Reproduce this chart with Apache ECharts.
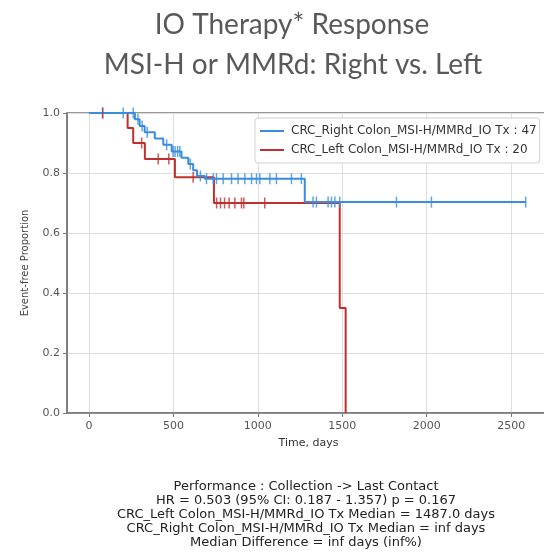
<!DOCTYPE html>
<html>
<head>
<meta charset="utf-8">
<style>
  html, body { margin: 0; padding: 0; background: #ffffff; }
  #chart { width: 544px; height: 559px; }
</style>
<script src="https://cdn.jsdelivr.net/npm/echarts@6/dist/echarts.min.js"></script>
</head>
<body>
<div id="chart"></div>
<script>
// Kaplan-Meier curves: step points (time in days, event-free proportion)
const rightName = 'CRC_Right Colon_MSI-H/MMRd_IO Tx : 47';
const leftName = 'CRC_Left Colon_MSI-H/MMRd_IO Tx : 20';

const rightTimes = [0, 272, 300, 330, 390, 440, 490, 548, 588, 617, 640, 686, 1278, 2586];
const rightSurv  = [1.0, 0.979, 0.957, 0.936, 0.915, 0.894, 0.872, 0.851, 0.830, 0.809, 0.790, 0.781, 0.703, 0.703];
const rightCensored = [81, 203, 262, 290, 315, 345, 460, 498, 510, 525, 538, 600, 660, 696, 736, 755, 795,
  844, 883, 923, 963, 992, 1012, 1071, 1110, 1199, 1258, 1327, 1347, 1416, 1436, 1456, 1485, 1821, 2028, 2586];

const leftTimes = [0, 229, 262, 331, 509, 740, 1485, 1520];
const leftSurv  = [1.0, 0.95, 0.90, 0.847, 0.786, 0.70, 0.35, 0.0];
const leftCensored = [81, 312, 410, 473, 617, 756, 779, 803, 830, 864, 903, 917, 1041];

const xTicks = [0, 500, 1000, 1500, 2000, 2500];

const statLines = [
  'Performance : Collection -> Last Contact',
  'HR = 0.503 (95% CI: 0.187 - 1.357) p = 0.167',
  'CRC_Left Colon_MSI-H/MMRd_IO Tx Median = 1487.0 days',
  'CRC_Right Colon_MSI-H/MMRd_IO Tx Median = inf days',
  'Median Difference = inf days (inf%)'
];

const BLUE = '#3a8ddd';
const RED = '#c0302e';

function steps(times, surv) {
  return times.map((t, i) => [t, surv[i]]);
}
// a censored observation sits on the curve value in force at that time
function onCurve(times, surv, censored) {
  return censored.map(t => {
    let s = surv[0];
    for (let i = 0; i < times.length; i++) if (times[i] <= t) s = surv[i];
    return [t, s];
  });
}

const chart = echarts.init(document.getElementById('chart'), null, { renderer: 'canvas' });

const tickFont = { fontFamily: 'DejaVu Sans', fontSize: 11, color: '#555' };

chart.setOption({
  animation: false,
  backgroundColor: '#ffffff',
  grid: { left: 67, top: 113, width: 483, height: 300, containLabel: false,
          outerBoundsMode: 'none',
          show: true, borderColor: '#777', borderWidth: 1.5, backgroundColor: 'transparent' },
  xAxis: {
    type: 'value',
    min: -130, max: 2730,
    minInterval: 500, maxInterval: 500,
    name: 'Time, days',
    nameLocation: 'middle',
    nameGap: 25,
    nameTextStyle: { fontFamily: 'DejaVu Sans', fontSize: 11, color: '#333' },
    axisLine: { show: true, onZero: false, lineStyle: { color: '#777', width: 1.5 } },
    axisTick: { show: true, inside: false, length: 4, customValues: xTicks, lineStyle: { color: '#777' } },
    axisLabel: Object.assign({ margin: 8, customValues: xTicks,
      formatter: v => (v % 500 === 0 ? String(v) : '') }, tickFont),
    splitLine: { show: true, lineStyle: { color: '#dedede', width: 1 } }
  },
  yAxis: {
    type: 'value',
    min: 0, max: 1, interval: 0.2,
    name: 'Event-free Proportion',
    nameLocation: 'middle',
    nameGap: 37,
    nameRotate: 90,
    nameTextStyle: { fontFamily: 'DejaVu Sans', fontSize: 10, color: '#444' },
    axisLine: { show: true, onZero: false, lineStyle: { color: '#777', width: 1.5 } },
    axisTick: { show: true, inside: false, length: 4, lineStyle: { color: '#777' } },
    axisLabel: Object.assign({ margin: 7, formatter: v => v.toFixed(1) }, tickFont),
    splitLine: { show: true, lineStyle: { color: '#dedede', width: 1 } }
  },
  legend: {
    data: [rightName, leftName],
    orient: 'vertical',
    left: 255, top: 118,
    icon: 'rect',
    itemWidth: 24, itemHeight: 2,
    itemGap: 7,
    padding: [7, 3, 7, 5],
    backgroundColor: '#ffffff',
    borderColor: '#d0d0d0',
    borderWidth: 1,
    borderRadius: 3,
    textStyle: { fontFamily: 'DejaVu Sans', fontSize: 12, color: '#333', padding: [0, 0, 0, 2] }
  },
  series: [
    {
      name: rightName, type: 'line', step: 'end',
      data: steps(rightTimes, rightSurv),
      showSymbol: false, symbol: 'none',
      color: BLUE, lineStyle: { color: BLUE, width: 2 }, z: 3
    },
    {
      name: leftName, type: 'line', step: 'end',
      data: steps(leftTimes, leftSurv),
      showSymbol: false, symbol: 'none',
      color: RED, lineStyle: { color: RED, width: 2 }, z: 2
    },
    {
      name: 'right-censored', type: 'scatter',
      data: onCurve(rightTimes, rightSurv, rightCensored),
      symbol: 'rect', symbolSize: [1.5, 11],
      itemStyle: { color: BLUE }, z: 4
    },
    {
      name: 'left-censored', type: 'scatter',
      data: onCurve(leftTimes, leftSurv, leftCensored),
      symbol: 'rect', symbolSize: [1.5, 11],
      itemStyle: { color: RED }, z: 4
    }
  ],
  graphic: [
    {
      type: 'text', x: 292, y: 25,
      style: { text: 'IO Therapy* Response', font: '28px Lato', fill: '#595959',
               textAlign: 'center', textVerticalAlign: 'middle' }
    },
    {
      type: 'text', x: 293, y: 65,
      style: { text: 'MSI-H or MMRd: Right vs. Left', font: '28px Lato', fill: '#595959',
               textAlign: 'center', textVerticalAlign: 'middle' }
    },
    {
      type: 'text', x: 306, y: 480,
      style: { text: statLines.join('\n'), font: '13px "DejaVu Sans"', fill: '#222',
               textAlign: 'center', textVerticalAlign: 'top', lineHeight: 14 }
    }
  ]
});
</script>
</body>
</html>
